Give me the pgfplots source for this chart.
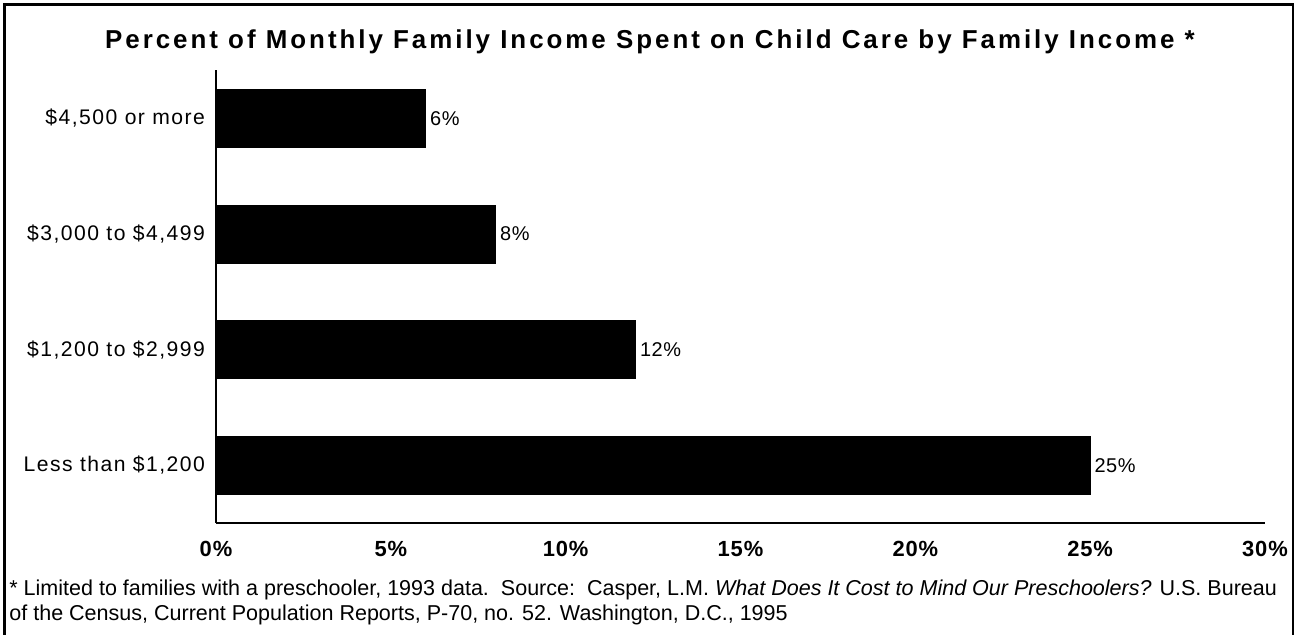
\documentclass[border=0pt]{standalone}
\usepackage{fontspec}
\setmainfont{Liberation Sans}
\newfontfamily\spaced[LetterSpace=7]{Liberation Sans}
\newfontfamily\tickfont[LetterSpace=4]{Liberation Sans}
\newfontfamily\valfont[LetterSpace=3]{Liberation Sans}
\newfontfamily\titlefont[LetterSpace=11.5]{Liberation Sans}
\usepackage{pgfplots}
\pgfplotsset{compat=1.18}
\begin{document}
\begin{tikzpicture}
\useasboundingbox (0bp,0bp) rectangle (649bp,317.5bp);
\draw[line width=1.2bp] (2.2bp,-2bp) -- (2.2bp,315.3bp) -- (646.5bp,315.3bp) -- (646.5bp,-2bp);
\node[font=\titlefont\bfseries\fontsize{13}{15}\selectfont, inner sep=0pt] at (325bp,296.5bp) {Percent of Monthly Family Income Spent on Child Care by Family Income *};
\begin{axis}[
  at={(108bp,56bp)}, anchor=south west,
  scale only axis, width=524.5bp, height=226.5bp,
  xmin=0, xmax=30, ymin=-0.5, ymax=3.42,
  axis lines=left,
  axis line style={-, line width=1bp},
  major tick length=0pt,
  xtick={0,5,10,15,20,25,30},
  xticklabels={0\%,5\%,10\%,15\%,20\%,25\%,30\%},
  xticklabel style={font=\tickfont\bfseries\fontsize{11}{13}\selectfont, yshift=-5.5bp},
  ytick={0,1,2,3},
  yticklabels={{Less than \$1,200},{\$1,200 to \$2,999},{\$3,000 to \$4,499},{\$4,500 or more}},
  yticklabel style={font=\spaced\fontsize{10.6}{12}\selectfont, xshift=-2bp},
  xbar, bar width=0.5,
  nodes near coords={\pgfmathprintnumber[assume math mode=true]{\pgfplotspointmeta}\%},
  nodes near coords style={font=\valfont\fontsize{10}{12}\selectfont, inner sep=2bp},
  clip=false,
]
\addplot[fill=black, draw=black] coordinates {(25,0) (12,1) (8,2) (6,3)};
\end{axis}
\node[anchor=west, inner sep=0pt, align=left, font=\fontsize{10.8}{12.5}\selectfont] at (4.5bp,16.5bp)
 {* Limited to families with a preschooler, 1993 data.\ \ Source:\ \ Casper, L.M. \textit{What Does It Cost to Mind Our Preschoolers?} U.S. Bureau\\
 of the Census, Current Population Reports, P-70, no. 52. Washington, D.C., 1995};
\end{tikzpicture}
\end{document}
